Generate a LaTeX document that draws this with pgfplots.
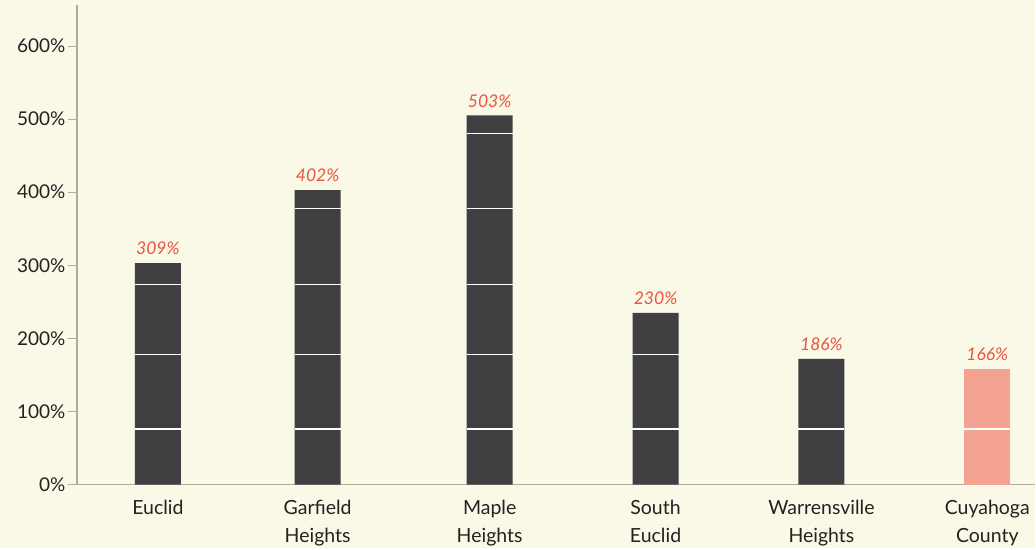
\documentclass[border=0pt]{standalone}
\usepackage{pgfplots}
\pgfplotsset{compat=1.18}
\usepackage{fontspec}
\setmainfont{Lato}
\definecolor{bg}{HTML}{FAF8E7}
\definecolor{barc}{HTML}{404043}
\definecolor{county}{HTML}{F4A392}
\definecolor{lab}{HTML}{E9553F}
\definecolor{axisc}{HTML}{B8A898}
\definecolor{txt}{HTML}{232220}
\begin{document}
\begin{tikzpicture}[x=1pt,y=1pt]
\fill[bg] (-77,-63) rectangle (959,485);
\begin{axis}[at={(0,0)}, anchor=south west, scale only axis,
  width=959pt, height=480pt,
  xmin=-0.488, xmax=5.29, ymin=0, ymax=656,
  axis x line=bottom, axis y line=left,
  axis line style={-, draw=axisc, line width=1.2pt},
  ytick={0,100,...,600},
  yticklabels={0\%,100\%,200\%,300\%,400\%,500\%,600\%},
  tick align=outside, major tick length=9pt,
  ytick style={draw=axisc, line width=0.8pt},
  xtick={0,0.963,2,3,4,5},
  xticklabels={Euclid,Garfield\\Heights,Maple\\Heights,South\\Euclid,Warrensville\\Heights,Cuyahoga\\County},
  xtick style={draw=none},
  xticklabel style={align=center, anchor=north, font=\fontsize{19.5}{28}\selectfont, text=txt, yshift=-3pt},
  yticklabel style={font=\fontsize{19}{22}\selectfont, text=txt, xshift=1pt},
  unbounded coords=jump,
  clip=false,
]
\addplot[ybar, bar width=46pt, bar shift=0pt, fill=barc, draw=none,
  point meta=explicit symbolic, nodes near coords,
  nodes near coords style={font=\fontsize{17.5}{20}\selectfont\itshape, text=lab, anchor=south, inner sep=0pt, yshift=8pt}]
  coordinates {(0,303) [309\%] (0.963,403) [402\%] (2,505) [503\%] (3,235) [230\%] (4,172) [186\%]};
\addplot[ybar, bar width=46pt, bar shift=0pt, fill=county, draw=none,
  point meta=explicit symbolic, nodes near coords,
  nodes near coords style={font=\fontsize{17.5}{20}\selectfont\itshape, text=lab, anchor=south, inner sep=0pt, yshift=8pt}]
  coordinates {(5,158) [166\%]};
\addplot[sharp plot, white, line width=1.3pt, mark=none] coordinates {
  (-0.139,76) (0.139,76) (0.5,nan)
  (-0.139,178) (0.139,178) (0.5,nan)
  (-0.139,274) (0.139,274) (0.5,nan)
  (0.824,76) (1.102,76) (1.5,nan)
  (0.824,178) (1.102,178) (1.5,nan)
  (0.824,274) (1.102,274) (1.5,nan)
  (0.824,378) (1.102,378) (1.5,nan)
  (1.861,76) (2.139,76) (2.5,nan)
  (1.861,178) (2.139,178) (2.5,nan)
  (1.861,274) (2.139,274) (2.5,nan)
  (1.861,378) (2.139,378) (2.5,nan)
  (1.861,480) (2.139,480) (2.5,nan)
  (2.861,76) (3.139,76) (3.5,nan)
  (2.861,178) (3.139,178) (3.5,nan)
  (3.861,76) (4.139,76) (4.5,nan)
  (4.861,76) (5.139,76)
};
\end{axis}
\end{tikzpicture}
\end{document}
